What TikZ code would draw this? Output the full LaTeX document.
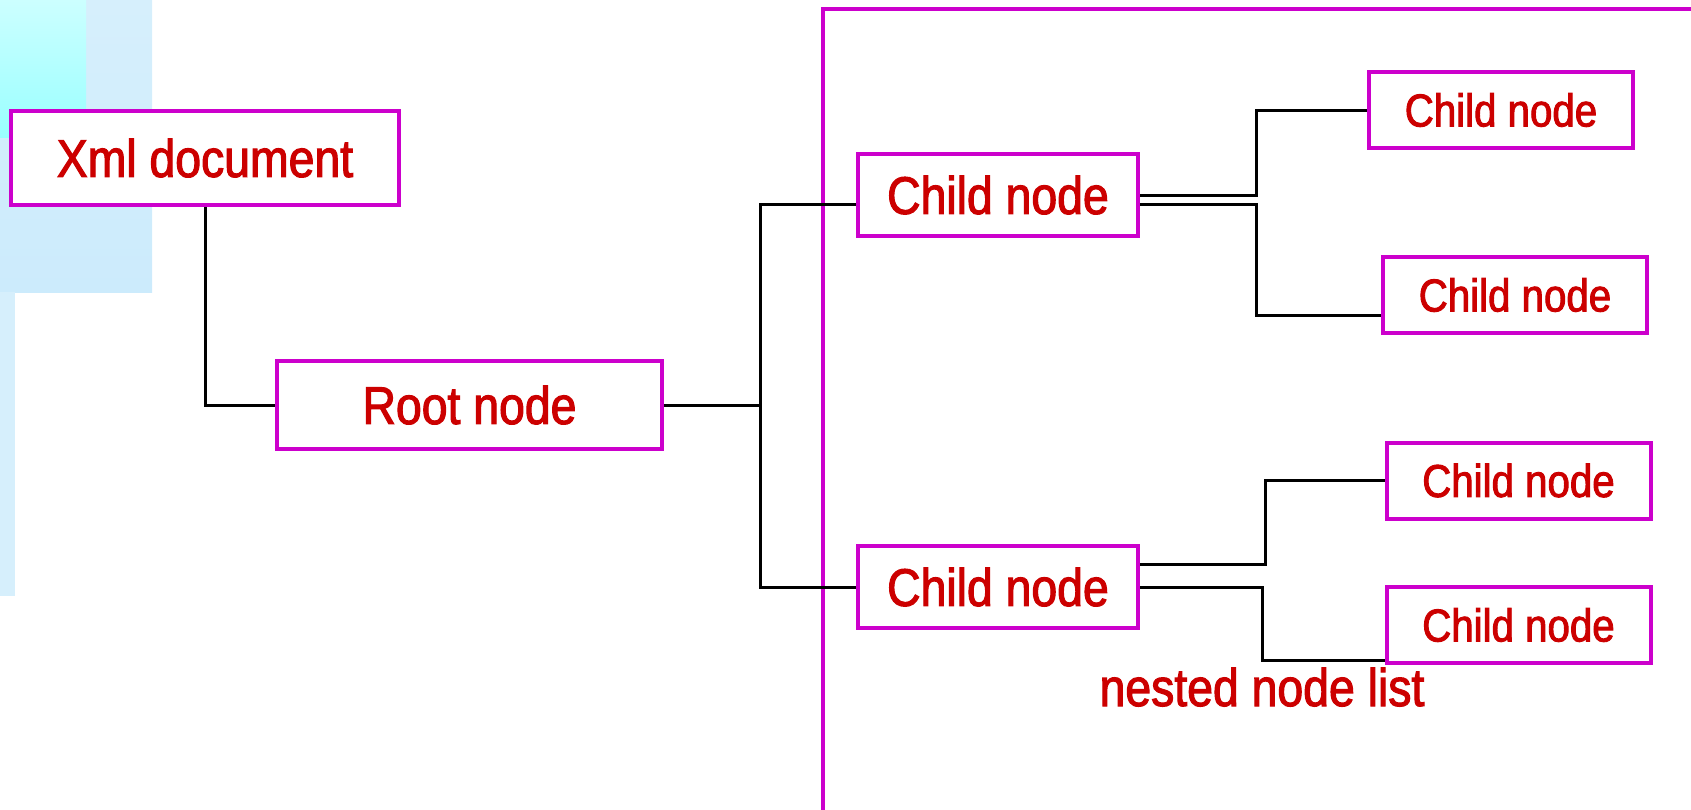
\documentclass[tikz,border=0pt]{standalone}
\usepackage{fontspec}
\setmainfont{Liberation Sans}[FakeStretch=0.875, FakeBold=2]
\usepackage{tikz}
\definecolor{boxline}{HTML}{CC00CC}
\definecolor{boxtext}{HTML}{CC0000}
\definecolor{paleblue}{HTML}{D6EFFC}
\definecolor{lowblue}{HTML}{CCEBFC}
\definecolor{topcyan}{HTML}{CCFFFF}
\definecolor{lowcyan}{HTML}{99FFFF}

\begin{document}
\begin{tikzpicture}[x=1pt, y=-1pt,
		nodebox/.style={draw=boxline, line width=4pt, fill=white, text=boxtext, inner sep=0pt, minimum width=280pt, minimum height=82pt, font=\fontsize{53}{60}\selectfont},
		leafbox/.style={nodebox, minimum width=264pt, minimum height=76pt, font=\fontsize{46}{52}\selectfont},
		wire/.style={draw=black, line width=3pt}]
		\useasboundingbox (0,0) rectangle (1691,809);
		% Background blocks:
		\shade[top color=paleblue, bottom color=lowblue] (0,0) rectangle (152,292);
		\fill[paleblue] (0,292) rectangle (15,596);
		\shade[top color=topcyan, bottom color=lowcyan] (0,0) rectangle (86,137);
		% Frame round the nested list:
		\draw[boxline, line width=4pt] (823,812) |- (1694,9);
		% Boxes:
		\node[nodebox, minimum width=388pt, minimum height=94pt](xml) at (205, 158){Xml document};
		\node[nodebox, minimum width=385pt, minimum height=88pt](root) at (469.5, 405){Root node};
		\node[nodebox](c1) at (998, 195){Child node};
		\node[nodebox](c2) at (998, 587){Child node};
		\node[leafbox](c1a) at (1501, 110){Child node};
		\node[leafbox](c1b) at (1515, 295){Child node};
		\node[leafbox](c2a) at (1518.5, 480.5){Child node};
		\node[leafbox](c2b) at (1518.5, 625){Child node};
		\node[text=boxtext, font=\fontsize{53}{60}\selectfont, anchor=base, inner sep=0pt](nested) at (1262, 706){nested node list};
		\coordinate (bus) at (760, 405);
		% Wires:
		\draw[wire] (xml.south) |- (root.west);
		\draw[wire] (root.east) -- (bus);
		\draw[wire] (bus) |- ([yshift=-9pt]c1.west);
		\draw[wire] (bus) |- (c2.west);
		\draw[wire] (c1.east) -- ++(116,0) |- (c1a.west);
		\draw[wire] ([yshift=-9pt]c1.east) -- ++(116,0) |- ([yshift=-20pt]c1b.west);
		\draw[wire] ([yshift=23pt]c2.east) -- ++(125,0) |- (c2a.west);
		\draw[wire] (c2.east) -- ++(122,0) |- ([yshift=-35pt]c2b.west);
	\end{tikzpicture}
\end{document}
